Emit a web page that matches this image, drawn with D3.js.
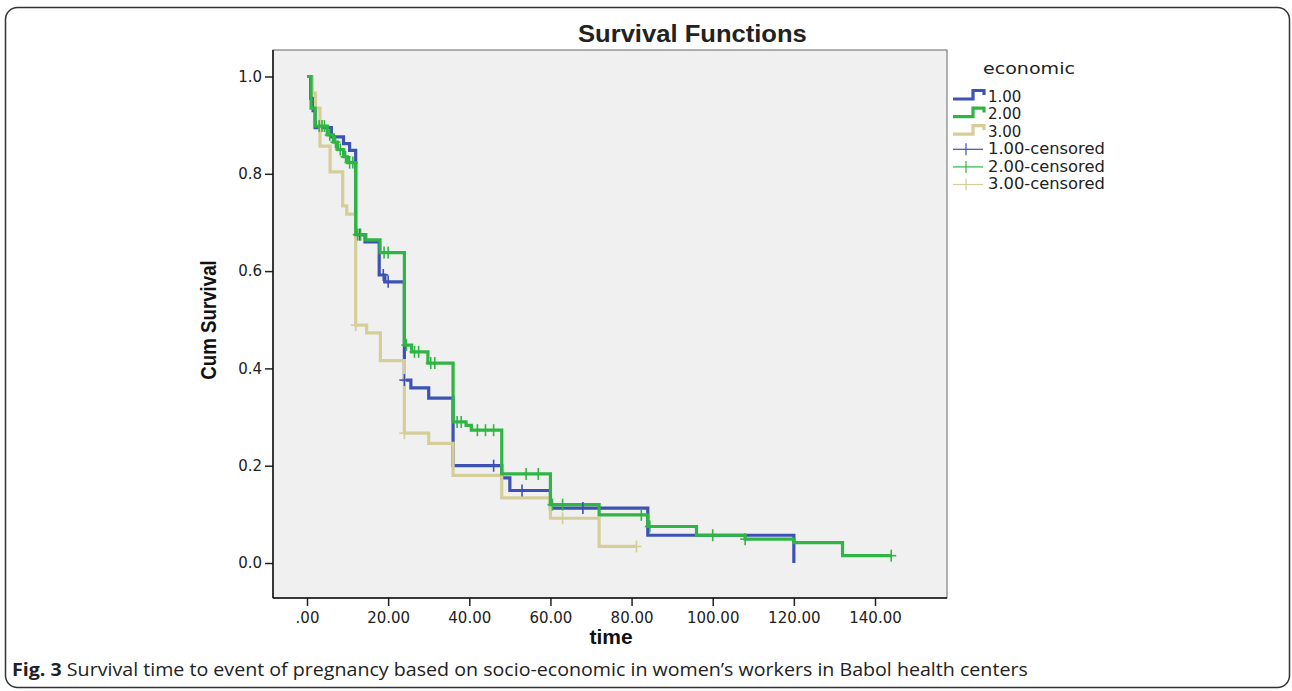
<!DOCTYPE html>
<html>
<head>
<meta charset="utf-8">
<script src="https://cdn.jsdelivr.net/npm/d3@7"></script>
<style>
  body { margin: 0; background: #fff; }
  svg { display: block; }
</style>
</head>
<body>
<div id="chart"></div>
<script>
// Kaplan-Meier steps: [time, survival after the step]
const blueTimes = [0, 0.9, 1.5, 2, 6, 9, 10.5, 12, 14.3, 17.8, 19.2, 24, 25.6, 30, 36, 48, 50, 60, 84, 120];
const blueSurv  = [1.0, 0.955, 0.93, 0.895, 0.876, 0.862, 0.848, 0.675, 0.66, 0.592, 0.578, 0.376, 0.36, 0.339, 0.2, 0.175, 0.149, 0.113, 0.057, 0.0];
const blueCens  = [13, 18.8, 20, 24, 46, 53, 68];

const greenTimes = [0, 1, 2, 5, 6.5, 7.5, 9, 10, 12, 14.5, 18, 24, 25.8, 29.8, 36, 39.2, 40.5, 48, 60, 72, 84, 96, 108, 120, 132, 144];
const greenSurv  = [1.0, 0.935, 0.898, 0.88, 0.865, 0.85, 0.835, 0.823, 0.675, 0.664, 0.638, 0.448, 0.434, 0.411, 0.29, 0.283, 0.273, 0.183, 0.12, 0.099, 0.075, 0.057, 0.049, 0.042, 0.015, 0.015];
const greenCens  = [3, 3.7, 4.3, 5.6, 7, 8.2, 9.5, 10.5, 11.3, 12.5, 13.2, 19, 20, 24.5, 26.5, 27.5, 30.5, 31.5, 37, 38, 42, 44, 46, 54, 57, 60.5, 63, 82.4, 84.5, 100, 108, 144];

const tanTimes = [0, 1.3, 2.1, 3.2, 5.7, 8.8, 9.8, 12, 14.7, 18.1, 24, 30, 36, 48, 60, 72, 81.2];
const tanSurv  = [1.0, 0.966, 0.935, 0.857, 0.804, 0.734, 0.717, 0.489, 0.473, 0.416, 0.267, 0.246, 0.18, 0.134, 0.092, 0.034, 0.034];
const tanCens  = [12, 24, 63, 81.2];

const xTicks = [0, 20, 40, 60, 80, 100, 120, 140];
const yTicks = [0, 0.2, 0.4, 0.6, 0.8, 1.0];
const legendLabels = ["1.00", "2.00", "3.00", "1.00-censored", "2.00-censored", "3.00-censored"];

const colors = { blue: "#3d52b2", green: "#2fb544", tan: "#d5ce98" };

const W = 1292, H = 691;
const svg = d3.select("#chart").append("svg").attr("width", W).attr("height", H);

// outer frame
svg.append("rect")
    .attr("x", 5.5).attr("y", 7.5).attr("width", 1284).attr("height", 680)
    .attr("rx", 12)
    .attr("fill", "none").attr("stroke", "#333").attr("stroke-width", 1.5);

// plot box
const box = { left: 273, right: 947, top: 50, bottom: 598 };
svg.append("rect")
    .attr("x", box.left).attr("y", box.top)
    .attr("width", box.right - box.left).attr("height", box.bottom - box.top)
    .attr("fill", "#f0f0f0").attr("stroke", "#666").attr("stroke-width", 1);

const x = d3.scaleLinear().domain([0, 140]).range([307, 875]);
const y = d3.scaleLinear().domain([0, 1]).range([563, 76.5]);

// axes
const yAxis = svg.append("g")
    .attr("transform", `translate(${box.left},0)`)
    .call(d3.axisLeft(y).tickValues(yTicks).tickFormat(d3.format(".1f")).tickSize(8).tickPadding(3));
const xAxis = svg.append("g")
    .attr("transform", `translate(0,${box.bottom})`)
    .call(d3.axisBottom(x).tickValues(xTicks).tickFormat(d => d === 0 ? ".00" : d.toFixed(2)).tickSize(8).tickPadding(6));

[xAxis, yAxis].forEach(a => {
    a.select(".domain").remove();
    a.selectAll(".tick line").attr("stroke", "#222").attr("stroke-width", 1.5);
    a.selectAll(".tick text").attr("fill", "#222")
        .style("font-family", "DejaVu Sans").style("font-size", "15px");
});
svg.append("line").attr("x1", box.left).attr("x2", box.left).attr("y1", box.top).attr("y2", box.bottom)
    .attr("stroke", "#111").attr("stroke-width", 1.5);
svg.append("line").attr("x1", box.left).attr("x2", box.right).attr("y1", box.bottom).attr("y2", box.bottom)
    .attr("stroke", "#111").attr("stroke-width", 1.5);

// survival step functions
const line = d3.line().x(d => x(d[0])).y(d => y(d[1])).curve(d3.curveStepAfter);

function survAt(times, surv, t) {
    let s = surv[0];
    for (let i = 0; i < times.length; i++) if (times[i] <= t) s = surv[i];
    return s;
}

const groups = [
    { times: blueTimes, surv: blueSurv, cens: blueCens, color: colors.blue },
    { times: tanTimes, surv: tanSurv, cens: tanCens, color: colors.tan },
    { times: greenTimes, surv: greenSurv, cens: greenCens, color: colors.green }
];

groups.forEach(g => {
    const pts = g.times.map((t, i) => [t, g.surv[i]]);
    svg.append("path").datum(pts)
        .attr("d", line)
        .attr("fill", "none")
        .attr("stroke", g.color)
        .attr("stroke-width", 3.2);
});

groups.forEach(g => {
    const marks = svg.append("g");
    g.cens.forEach(t => {
        const cx = x(t), cy = y(survAt(g.times, g.surv, t));
        marks.append("line").attr("x1", cx).attr("x2", cx).attr("y1", cy - 6).attr("y2", cy + 6)
            .attr("stroke", g.color).attr("stroke-width", 1.6);
        marks.append("line").attr("x1", cx - 5).attr("x2", cx + 5).attr("y1", cy).attr("y2", cy)
            .attr("stroke", g.color).attr("stroke-width", 1.6);
    });
});

// fit a text element to a target width by horizontal scaling
function fitWidth(sel, target, anchorX) {
    const w = sel.node().getComputedTextLength();
    const k = target / w;
    sel.attr("transform", `translate(${anchorX},0) scale(${k},1) translate(${-anchorX},0)`);
}

// titles
const title = svg.append("text")
    .attr("x", 578).attr("y", 42)
    .style("font-family", "Liberation Sans, Arial").style("font-weight", "bold").style("font-size", "24px")
    .attr("fill", "#222")
    .text("Survival Functions");
fitWidth(title, 229, 578);

svg.append("text")
    .attr("x", 611).attr("y", 644)
    .attr("text-anchor", "middle")
    .style("font-family", "Liberation Sans, Arial").style("font-weight", "bold").style("font-size", "21px")
    .attr("fill", "#111")
    .text("time");

svg.append("text")
    .attr("transform", "translate(216,320) rotate(-90) scale(0.85,1)")
    .attr("text-anchor", "middle")
    .style("font-family", "Liberation Sans, Arial").style("font-weight", "bold").style("font-size", "22px")
    .attr("fill", "#111")
    .text("Cum Survival");

// legend
const legX = 953, legY0 = 96.5, legStep = 17.6;
const legendColors = [colors.blue, colors.green, colors.tan, colors.blue, colors.green, colors.tan];
const econ = svg.append("text")
    .attr("x", 983).attr("y", 74)
    .style("font-family", "DejaVu Sans").style("font-size", "15px").attr("fill", "#222")
    .text("economic");
fitWidth(econ, 92, 983);

legendLabels.forEach((lab, i) => {
    const cy = legY0 + i * legStep;
    if (i < 3) {
        svg.append("path")
            .attr("d", `M${legX},${cy + 2.5}H${legX + 20}V${cy - 6}H${legX + 31}V${cy - 1.5}`)
            .attr("fill", "none").attr("stroke", legendColors[i]).attr("stroke-width", 3.2);
    } else {
        svg.append("line").attr("x1", legX).attr("x2", legX + 30).attr("y1", cy).attr("y2", cy)
            .attr("stroke", legendColors[i]).attr("stroke-width", 1.2);
        svg.append("line").attr("x1", legX + 13).attr("x2", legX + 13).attr("y1", cy - 6).attr("y2", cy + 6)
            .attr("stroke", legendColors[i]).attr("stroke-width", 1.2);
    }
    const t = svg.append("text")
        .attr("x", 988).attr("y", cy + 5)
        .style("font-family", "DejaVu Sans").style("font-size", "15px").attr("fill", "#222")
        .text(lab);
    if (i === 3) fitWidth(t, 117, 988);
    if (i > 3) t.attr("transform", svg.selectAll("text").filter((d, j, n) => n[j].textContent === "1.00-censored").attr("transform"));
});

// caption
const cap = svg.append("text")
    .attr("x", 12).attr("y", 676)
    .style("font-family", "Open Sans").style("font-size", "18px").attr("fill", "#222");
cap.append("tspan").style("font-weight", "bold").text("Fig. 3");
cap.append("tspan").text(" Survival time to event of pregnancy based on socio-economic in women\u2019s workers in Babol health centers");
fitWidth(cap, 1016, 12);
</script>
</body>
</html>
